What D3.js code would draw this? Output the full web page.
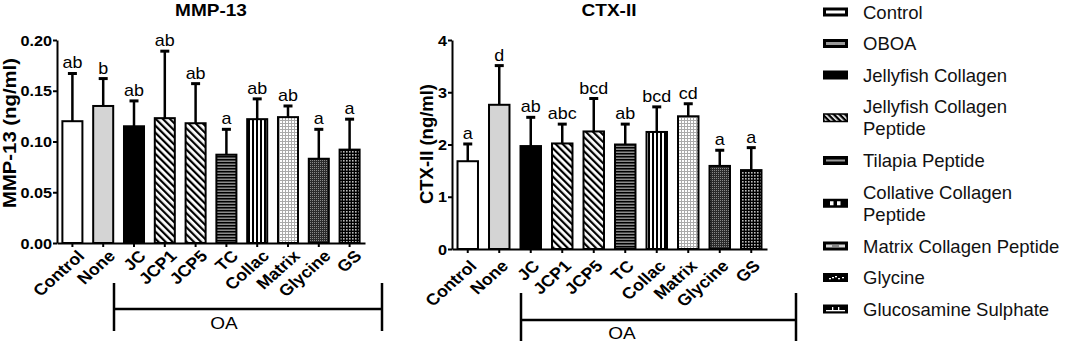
<!DOCTYPE html>
<html>
<head>
<meta charset="utf-8">
<script src="https://cdn.jsdelivr.net/npm/d3@7"></script>
<style>
  html, body { margin: 0; padding: 0; background: #fff; }
  svg { display: block; font-family: "Liberation Sans", Arial, sans-serif; }
</style>
</head>
<body>
<svg id="chart" width="1065" height="347"></svg>
<script>
// ─── data ─────────────────────────────────────────────────────────────────────
const groups     = ['Control','None','JC','JCP1','JCP5','TC','Collac','Matrix','Glycine','GS'];
const fills      = ['white','gray','black','diag','diag','hstripe','vstripe','dots','dense','grid'];

const mmpMean    = [0.120, 0.135, 0.115, 0.123, 0.118, 0.087, 0.122, 0.124, 0.083, 0.092];
const mmpSd      = [0.047, 0.027, 0.025, 0.066, 0.039, 0.025, 0.020, 0.011, 0.029, 0.030];
const mmpLetters = ['ab','b','ab','ab','ab','a','ab','ab','a','a'];
const mmpTicks   = [0, 0.05, 0.10, 0.15, 0.20];

const ctxMean    = [1.68, 2.76, 1.97, 2.02, 2.25, 2.00, 2.24, 2.54, 1.59, 1.51];
const ctxSd      = [0.33, 0.75, 0.55, 0.37, 0.63, 0.39, 0.48, 0.24, 0.30, 0.43];
const ctxLetters = ['a','d','ab','abc','bcd','ab','bcd','cd','a','a'];
const ctxTicks   = [0, 1, 2, 3, 4];

const legendNames = ['Control','OBOA','Jellyfish Collagen','Jellyfish Collagen\nPeptide','Tilapia Peptide',
                     'Collative Collagen\nPeptide','Matrix Collagen Peptide','Glycine','Glucosamine Sulphate'];

// ─── setup ────────────────────────────────────────────────────────────────────
const svg  = d3.select('#chart');
const defs = svg.append('defs');

function pat(id, w, h, bg, draw, tf) {
  const p = defs.append('pattern').attr('id', id).attr('patternUnits','userSpaceOnUse')
    .attr('width', w).attr('height', h);
  if (tf) p.attr('patternTransform', tf);
  p.append('rect').attr('width', w).attr('height', h).attr('fill', bg);
  draw(p);
}
pat('p-diag', 5, 5, '#fff', p => p.append('rect').attr('width', 2.2).attr('height', 5).attr('fill','#000'), 'rotate(-45)');
pat('p-hs', 3, 3, '#8a8a8a', p => p.append('rect').attr('width', 3).attr('height', 1.5).attr('fill','#000'));
pat('p-vs', 4, 4, '#fff', p => p.append('rect').attr('width', 2).attr('height', 4).attr('fill','#000'));
pat('p-dots', 3, 3, '#fff', p => {
  p.append('rect').attr('width', 3).attr('height', 1).attr('fill','#aaa');
  p.append('rect').attr('width', 1).attr('height', 3).attr('fill','#aaa');
});
pat('p-dense', 2, 2, '#2a2a2a', p => p.append('rect').attr('width', 1).attr('height', 1).attr('fill','#888'));
pat('p-grid', 3, 3, '#000', p => p.append('rect').attr('x', 1).attr('y', 1).attr('width', 1.6).attr('height', 1.6).attr('fill','#bbb'));
pat('p-legdiag', 4, 4, '#000', p => p.append('rect').attr('width', 1.6).attr('height', 4).attr('fill','#fff'), 'rotate(-45)');

const fillOf = { white:'#fff', gray:'#d4d4d4', black:'#000', diag:'url(#p-diag)', hstripe:'url(#p-hs)',
                 vstripe:'url(#p-vs)', dots:'url(#p-dots)', dense:'url(#p-dense)', grid:'url(#p-grid)' };

// the figure's lettering is wider than plain Arial: squeeze it out sideways
const SX = 1.12;
function wide(sel, rot) {
  sel.each(function() {
    const t = d3.select(this);
    const x = +t.attr('x') || 0, y = +t.attr('y') || 0;
    t.attr('x', null).attr('y', null)
     .attr('transform', `translate(${x},${y}) scale(${SX},1)` + (rot ? ` rotate(${rot})` : ''));
  });
}

const panels = [
  { title:'MMP-13', yLabel:'MMP-13 (ng/ml)', mean:mmpMean, sd:mmpSd, letters:mmpLetters, ticks:mmpTicks,
    fmt:d3.format('.2f'), x0:57, x1:365, y0:243, y1:40, titleX:211, yLabelX:16, yLabelY:133, yLabelLen:150,
    lab:[13, 14], oa:{ l:114, r:382, y:309, t:283, b:331, tx:224, ty:329 } },
  { title:'CTX-II', yLabel:'CTX-II (ng/ml)', mean:ctxMean, sd:ctxSd, letters:ctxLetters, ticks:ctxTicks,
    fmt:d3.format('d'), x0:452, x1:767, y0:249, y1:40, titleX:609, yLabelX:432.5, yLabelY:144, yLabelLen:120,
    lab:[10, 18], oa:{ l:521, r:796, y:320, t:293, b:341, tx:622, ty:339 } }
];

function drawPanel(p) {
  const g = svg.append('g');
  const x = d3.scaleBand().domain(groups).range([p.x0, p.x1]).paddingInner(0.35).paddingOuter(0.175);
  const y = d3.scaleLinear().domain([p.ticks[0], p.ticks[p.ticks.length - 1]]).range([p.y0, p.y1]);
  const rows = groups.map((k, i) => ({ k, m:p.mean[i], s:p.sd[i], t:p.letters[i], f:fills[i] }));
  const cx = d => x(d.k) + x.bandwidth() / 2;

  // error bars (upper only)
  g.selectAll('line.eb').data(rows).join('line').attr('class','eb')
    .attr('x1', cx).attr('x2', cx).attr('y1', d => y(d.m)).attr('y2', d => y(d.m + d.s))
    .attr('stroke','#000').attr('stroke-width', 2.5);
  g.selectAll('line.cap').data(rows).join('line').attr('class','cap')
    .attr('x1', d => cx(d) - 4.5).attr('x2', d => cx(d) + 4.5)
    .attr('y1', d => y(d.m + d.s)).attr('y2', d => y(d.m + d.s))
    .attr('stroke','#000').attr('stroke-width', 3);

  g.selectAll('rect.bar').data(rows).join('rect').attr('class','bar')
    .attr('x', d => x(d.k)).attr('y', d => y(d.m))
    .attr('width', x.bandwidth()).attr('height', d => p.y0 - y(d.m))
    .attr('fill', d => fillOf[d.f]).attr('stroke','#000').attr('stroke-width', 2);

  // significance letters
  g.selectAll('text.sig').data(rows).join('text').attr('class','sig')
    .attr('x', cx).attr('y', d => y(d.m + d.s) - 5)
    .attr('text-anchor','middle').attr('font-size', 16).text(d => d.t)
    .call(wide);

  // axes
  const ya = g.append('g').attr('transform', `translate(${p.x0},0)`)
    .call(d3.axisLeft(y).tickValues(p.ticks).tickFormat(p.fmt).tickSize(4).tickSizeOuter(0).tickPadding(1));
  const xa = g.append('g').attr('transform', `translate(0,${p.y0})`)
    .call(d3.axisBottom(x).tickSize(4).tickSizeOuter(0).tickFormat(''));
  [ya, xa].forEach(a => {
    a.attr('font-family', null);
    a.select('.domain').attr('stroke-width', 2);
    a.selectAll('.tick line').attr('stroke-width', 2);
  });
  ya.selectAll('.tick text').attr('font-size', 14.5).attr('font-weight','bold').attr('fill','#000')
    .attr('dy', null).attr('y', 5.2).call(wide);

  g.selectAll('text.xl').data(groups).join('text').attr('class','xl')
    .attr('text-anchor','end').attr('font-size', 16).attr('font-weight','bold')
    .attr('x', d => x(d) + x.bandwidth() / 2 + p.lab[0]).attr('y', p.y0 + p.lab[1])
    .text(d => d)
    .call(wide, -45);

  // titles
  g.append('text').attr('x', p.titleX).attr('y', 16).attr('text-anchor','middle')
    .attr('font-size', 17).attr('font-weight','bold').text(p.title).call(wide);
  g.append('text').attr('transform', `translate(${p.yLabelX},${p.yLabelY}) rotate(-90)`)
    .attr('text-anchor','middle').attr('font-size', 18.5).attr('font-weight','bold')
    .attr('textLength', p.yLabelLen).attr('lengthAdjust','spacingAndGlyphs').text(p.yLabel);

  // OA bracket
  const o = p.oa;
  g.append('path').attr('d', `M${o.l},${o.t}V${o.b}M${o.l},${o.y}H${o.r}M${o.r},${o.t}V${o.b}`)
    .attr('fill','none').attr('stroke','#000').attr('stroke-width', 2.5);
  g.append('text').attr('x', o.tx).attr('y', o.ty).attr('text-anchor','middle')
    .attr('font-size', 17).text('OA').call(wide);
}

panels.forEach(drawPanel);

// ─── legend ───────────────────────────────────────────────────────────────────
const swatchDraw = [
  s => s.append('rect').attr('x', 3).attr('y', 3).attr('width', 19).attr('height', 3).attr('fill','#fff'),
  s => s.append('rect').attr('x', 3).attr('y', 3).attr('width', 19).attr('height', 3).attr('fill','#9a9a9a'),
  s => {},
  s => s.append('rect').attr('x', 1.5).attr('y', 1.5).attr('width', 22).attr('height', 6).attr('fill','url(#p-legdiag)'),
  s => s.append('rect').attr('x', 3).attr('y', 3.5).attr('width', 19).attr('height', 2).attr('fill','#9a9a9a'),
  s => [7, 14].forEach(v => s.append('rect').attr('x', v).attr('y', 2.5).attr('width', 3.5).attr('height', 4).attr('fill','#fff')),
  s => {
    s.append('rect').attr('x', 3).attr('y', 3).attr('width', 19).attr('height', 3).attr('fill','#d8d8d8');
    s.append('rect').attr('x', 9).attr('y', 3.5).attr('width', 7).attr('height', 2).attr('fill','#888');
  },
  s => [[6,5],[9,4],[12,3],[15,5],[19,4]].forEach(([a, b]) =>
         s.append('rect').attr('x', a).attr('y', b).attr('width', 2).attr('height', 1.3).attr('fill','#fff')),
  s => {
    s.append('rect').attr('x', 3).attr('y', 5.5).attr('width', 19).attr('height', 1.3).attr('fill','#fff');
    [9, 15].forEach(v => s.append('rect').attr('x', v).attr('y', 2.5).attr('width', 1.3).attr('height', 3.5).attr('fill','#fff'));
  }
];

const lg = svg.append('g');
let cy = 12, prevH = 0;
legendNames.forEach((name, i) => {
  const lines = name.split('\n');
  const h = lines.length > 1 ? 54 : 31.5;
  if (i > 0) cy += (prevH + h) / 2;
  prevH = h;
  const s = lg.append('g').attr('transform', `translate(823,${cy - 4.5})`);
  s.append('rect').attr('width', 25).attr('height', 9).attr('fill','#000');
  swatchDraw[i](s);
  const t = lg.append('text').attr('font-size', 18.5).attr('fill','#111');
  lines.forEach((ln, j) => {
    t.append('tspan').attr('x', 863).attr('y', cy + 6.5 + (j - (lines.length - 1) / 2) * 22).text(ln);
  });
});
</script>
</body>
</html>
